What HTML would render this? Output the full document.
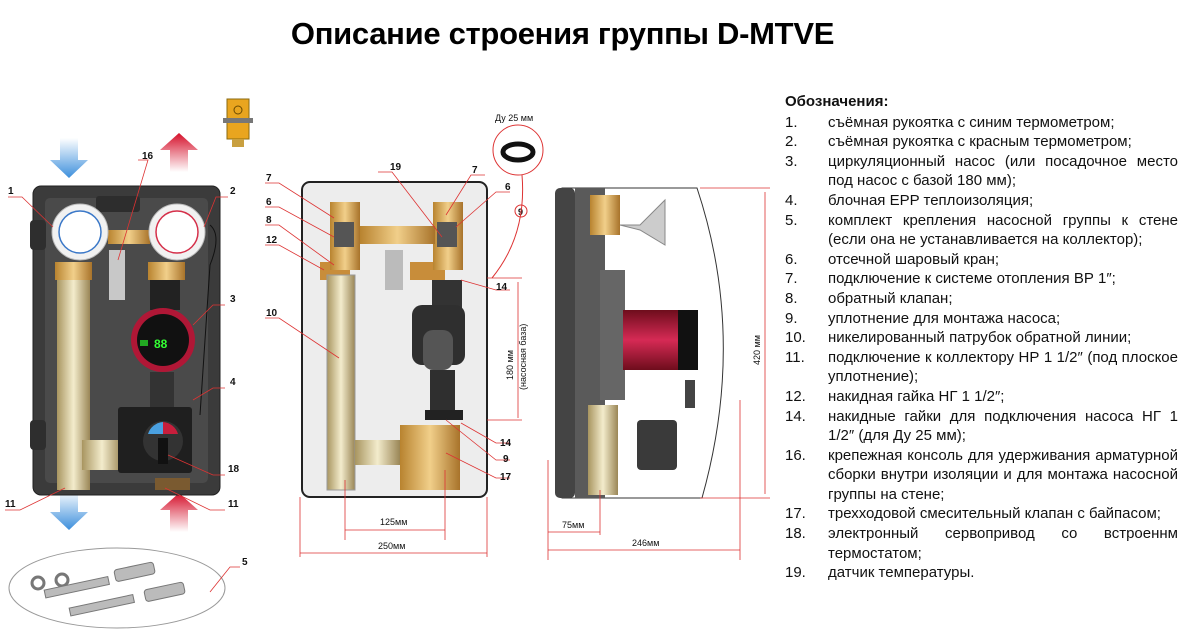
<!DOCTYPE html>
<html><head><meta charset="utf-8"><style>
body{margin:0;width:1200px;height:635px;background:#fff;position:relative;overflow:hidden;font-family:"Liberation Sans",sans-serif}
h1{position:absolute;left:0;width:1125px;top:16px;margin:0;text-align:center;font-size:31px;font-weight:bold;color:#000;letter-spacing:-0.3px}
#leg{position:absolute;left:785px;top:92px;width:393px;font-size:15px;line-height:19.6px;color:#111}
#leg .t{font-weight:bold;font-size:15px;margin-bottom:1px}
#leg .r{display:flex}
#leg .n{width:43px;flex:none}
#leg .x{flex:1;text-align:justify;text-align-last:left}
svg{position:absolute;left:0;top:0}
svg text{font-family:"Liberation Sans",sans-serif;font-size:10px;font-weight:bold;fill:#111}
</style></head><body>
<h1>Описание строения группы D-MTVE</h1>
<svg width="780" height="635" viewBox="0 0 780 635">
<defs>
<linearGradient id="brass" x1="0" x2="1"><stop offset="0" stop-color="#b8832f"/><stop offset=".5" stop-color="#f1cf8a"/><stop offset="1" stop-color="#a8732a"/></linearGradient>
<linearGradient id="tube" x1="0" x2="1"><stop offset="0" stop-color="#a89560"/><stop offset=".5" stop-color="#f3eccc"/><stop offset="1" stop-color="#9a8656"/></linearGradient>
<linearGradient id="blue" x1="0" y1="0" x2="0" y2="1"><stop offset="0" stop-color="#fff"/><stop offset="1" stop-color="#3d8fdc"/></linearGradient>
<linearGradient id="red" x1="0" y1="1" x2="0" y2="0"><stop offset="0" stop-color="#fff"/><stop offset="1" stop-color="#d5102a"/></linearGradient>
<linearGradient id="pump" x1="0" y1="0" x2="0" y2="1"><stop offset="0" stop-color="#6e0d1c"/><stop offset=".5" stop-color="#d62a55"/><stop offset="1" stop-color="#6e0d1c"/></linearGradient>
</defs>
<path d="M60,138h18v22h10l-19,18l-19,-18h10z" fill="url(#blue)"/>
<path d="M170,172h18v-22h10l-19,-17l-19,17h10z" fill="url(#red)"/>
<path d="M60,490h18v22h10l-19,18l-19,-18h10z" fill="url(#blue)"/>
<path d="M170,532h18v-22h10l-19,-17l-19,17h10z" fill="url(#red)"/>
<rect x="227" y="99" width="22" height="40" fill="#e9a51f" stroke="#8a6a10"/><rect x="223" y="118" width="30" height="5" fill="#777"/><circle cx="238" cy="110" r="4" fill="none" stroke="#6b4a00"/><rect x="232" y="139" width="12" height="8" fill="#c9a040"/>
<rect x="33" y="186" width="187" height="309" rx="8" fill="#3b3b3b" stroke="#222"/>
<rect x="45" y="198" width="163" height="285" rx="5" fill="#4a4a4a"/>
<rect x="96" y="196" width="44" height="16" rx="3" fill="#2d2d2d"/>
<rect x="30" y="220" width="16" height="30" rx="4" fill="#2e2e2e"/><rect x="30" y="420" width="16" height="30" rx="4" fill="#2e2e2e"/>
<rect x="108" y="230" width="42" height="14" fill="url(#brass)"/>
<rect x="109" y="250" width="16" height="50" fill="#c8c8c8"/>
<circle cx="80" cy="232" r="28" fill="#f1f1f1" stroke="#bbb"/><circle cx="80" cy="232" r="21" fill="#fff" stroke="#3b78c8" stroke-width="1.5"/>
<circle cx="177" cy="232" r="28" fill="#f1f1f1" stroke="#bbb"/><circle cx="177" cy="232" r="21" fill="#fff" stroke="#d5304a" stroke-width="1.5"/>
<rect x="55" y="262" width="37" height="18" fill="url(#brass)"/><rect x="148" y="262" width="37" height="18" fill="url(#brass)"/>
<rect x="57" y="280" width="33" height="210" fill="url(#tube)"/>
<rect x="82" y="440" width="40" height="30" fill="url(#tube)"/>
<rect x="150" y="280" width="30" height="30" fill="#222"/>
<circle cx="163" cy="340" r="32" fill="#b01736"/><circle cx="163" cy="340" r="26" fill="#111"/>
<text x="154" y="348" style="fill:#3f3;font-size:12px">88</text><rect x="140" y="340" width="8" height="6" fill="#2a2"/>
<rect x="150" y="372" width="24" height="38" fill="#333"/>
<rect x="118" y="407" width="74" height="66" rx="3" fill="#1f1f1f"/>
<circle cx="163" cy="441" r="20" fill="#333"/><path d="M148,434a17,17 0 0 1 15,-12v12z" fill="#4aa0e0"/><path d="M163,422a17,17 0 0 1 15,12h-15z" fill="#c81e3c"/>
<rect x="158" y="438" width="10" height="26" fill="#111"/>
<rect x="155" y="478" width="35" height="12" fill="#7a5a30"/>
<path d="M210,225 q12,10 0,40 l-10,150" stroke="#111" fill="none"/>
<ellipse cx="117" cy="588" rx="108" ry="40" fill="none" stroke="#999"/>
<g fill="#bbb" stroke="#777"><circle cx="38" cy="583" r="6" fill="none" stroke-width="3"/><circle cx="62" cy="580" r="6" fill="none" stroke-width="3"/>
<rect x="45" y="590" width="65" height="8" transform="rotate(-12 45 594)"/><rect x="70" y="608" width="65" height="8" transform="rotate(-12 70 612)"/>
<rect x="115" y="570" width="40" height="12" rx="3" transform="rotate(-12 115 576)"/><rect x="145" y="590" width="40" height="12" rx="3" transform="rotate(-12 145 596)"/></g>
<g stroke="#d33" stroke-width=".8" fill="none">
<path d="M8,197h14l31,30"/><path d="M228,197h-12l-12,30"/><path d="M138,160h10l-30,100"/><path d="M225,305h-12l-20,20"/><path d="M225,388h-12l-20,12"/><path d="M225,475h-12l-45,-20"/><path d="M5,510h15l45,-22"/><path d="M225,510h-15l-45,-22"/><path d="M240,567h-10l-20,25"/>
</g>
<text x="8" y="194">1</text><text x="230" y="194">2</text><text x="142" y="159">16</text><text x="230" y="302">3</text><text x="230" y="385">4</text><text x="228" y="472">18</text><text x="5" y="507">11</text><text x="228" y="507">11</text><text x="242" y="565">5</text>
<rect x="302" y="182" width="185" height="315" rx="8" fill="#ededed" stroke="#222" stroke-width="2"/>
<rect x="320" y="262" width="30" height="18" fill="#c88d3a"/><rect x="410" y="262" width="35" height="18" fill="#c88d3a"/>
<rect x="327" y="275" width="28" height="215" fill="url(#tube)" stroke="#999"/>
<rect x="330" y="202" width="30" height="68" fill="url(#brass)"/><rect x="433" y="202" width="30" height="68" fill="url(#brass)"/>
<rect x="334" y="222" width="20" height="25" fill="#555"/><rect x="437" y="222" width="20" height="25" fill="#555"/>
<rect x="360" y="226" width="75" height="18" fill="url(#brass)"/>
<rect x="385" y="250" width="18" height="40" fill="#bbb"/>
<rect x="432" y="280" width="30" height="30" fill="#333"/>
<rect x="412" y="305" width="53" height="60" rx="10" fill="#2f2f2f"/><rect x="423" y="330" width="30" height="40" rx="10" fill="#555"/>
<rect x="430" y="370" width="25" height="40" fill="#2f2f2f"/>
<rect x="425" y="410" width="38" height="10" fill="#222"/>
<rect x="355" y="440" width="45" height="25" fill="url(#tube)"/>
<rect x="400" y="425" width="60" height="65" fill="url(#brass)"/>
<path d="M487,278h35M487,420h35M518,282v136M300,497v60M487,497v60M345,480v60M445,470v70M300,553h187M345,530h100" stroke="#d33" stroke-width=".8"/>
<text x="513" y="380" transform="rotate(-90 513 380)" style="font-weight:normal;font-size:9px">180 мм</text>
<text x="526" y="390" transform="rotate(-90 526 390)" style="font-weight:normal;font-size:9px">(насосная база)</text>
<text x="380" y="525" style="font-weight:normal;font-size:9px">125мм</text><text x="378" y="549" style="font-weight:normal;font-size:9px">250мм</text>
<circle cx="518" cy="150" r="25" fill="none" stroke="#d33"/><ellipse cx="518" cy="152" rx="15" ry="8" fill="none" stroke="#111" stroke-width="5"/>
<text x="495" y="121" style="font-weight:normal;font-size:9px">Ду 25 мм</text>
<circle cx="521" cy="211" r="6" fill="#fff" stroke="#d33"/><text x="518" y="215" style="font-size:9px">9</text>
<path d="M522,175q5,60 -30,103" stroke="#d33" fill="none"/>
<g stroke="#d33" stroke-width=".8" fill="none">
<path d="M265,183h14l55,35"/><path d="M265,207h14l55,30"/><path d="M265,225h14l55,40"/><path d="M265,245h14l45,25"/><path d="M265,318h14l60,40"/><path d="M378,172h14l50,65"/><path d="M485,175h-14l-25,40"/><path d="M510,192h-14l-40,35"/><path d="M510,290h-14l-35,-10"/><path d="M510,443h-14l-35,-20"/><path d="M510,460h-14l-50,-40"/><path d="M510,478h-14l-50,-25"/>
</g>
<text x="266" y="181">7</text><text x="266" y="205">6</text><text x="266" y="223">8</text><text x="266" y="243">12</text><text x="266" y="316">10</text><text x="390" y="170">19</text><text x="472" y="173">7</text><text x="505" y="190">6</text><text x="496" y="290">14</text><text x="500" y="446">14</text><text x="503" y="462">9</text><text x="500" y="480">17</text>
<path d="M562,188h135q50,150 5,310h-140z" fill="#fff" stroke="#333"/>
<rect x="555" y="188" width="20" height="310" rx="5" fill="#444"/><rect x="575" y="188" width="30" height="310" fill="#5a5a5a"/>
<rect x="590" y="195" width="30" height="40" fill="url(#brass)"/>
<path d="M620,225h20l25,-25v45l-25,-15z" fill="#ccc" stroke="#888"/>
<rect x="600" y="270" width="25" height="130" fill="#666"/>
<rect x="623" y="310" width="55" height="60" fill="url(#pump)"/><rect x="678" y="310" width="20" height="60" fill="#111"/>
<rect x="685" y="380" width="10" height="28" fill="#444"/>
<rect x="588" y="405" width="30" height="90" fill="url(#tube)"/>
<rect x="637" y="420" width="40" height="50" rx="4" fill="#3a3a3a"/>
<path d="M700,188h70M700,498h70M765,192v302M548,460v100M740,400v160M600,490v45M548,532h52M548,550h192" stroke="#d33" stroke-width=".8"/>
<text x="760" y="365" transform="rotate(-90 760 365)" style="font-weight:normal;font-size:9px">420 мм</text>
<text x="562" y="528" style="font-weight:normal;font-size:9px">75мм</text><text x="632" y="546" style="font-weight:normal;font-size:9px">246мм</text>
</svg>
<div id="leg">
<div class="t">Обозначения:</div>
<div class="r"><span class="n">1.</span><span class="x">съёмная рукоятка с синим термометром;</span></div>
<div class="r"><span class="n">2.</span><span class="x">съёмная рукоятка с красным термометром;</span></div>
<div class="r"><span class="n">3.</span><span class="x">циркуляционный насос (или посадочное место под насос с базой 180 мм);</span></div>
<div class="r"><span class="n">4.</span><span class="x">блочная EPP теплоизоляция;</span></div>
<div class="r"><span class="n">5.</span><span class="x">комплект крепления насосной группы к стене (если она не устанавливается на коллектор);</span></div>
<div class="r"><span class="n">6.</span><span class="x">отсечной шаровый кран;</span></div>
<div class="r"><span class="n">7.</span><span class="x">подключение к системе отопления ВР 1″;</span></div>
<div class="r"><span class="n">8.</span><span class="x">обратный клапан;</span></div>
<div class="r"><span class="n">9.</span><span class="x">уплотнение для монтажа насоса;</span></div>
<div class="r"><span class="n">10.</span><span class="x">никелированный патрубок обратной линии;</span></div>
<div class="r"><span class="n">11.</span><span class="x">подключение к коллектору НР 1 1/2″ (под плоское уплотнение);</span></div>
<div class="r"><span class="n">12.</span><span class="x">накидная гайка НГ 1 1/2″;</span></div>
<div class="r"><span class="n">14.</span><span class="x">накидные гайки для подключения насоса НГ 1 1/2″ (для Ду 25 мм);</span></div>
<div class="r"><span class="n">16.</span><span class="x">крепежная консоль для удерживания арматурной сборки внутри изоляции и для монтажа насосной группы на стене;</span></div>
<div class="r"><span class="n">17.</span><span class="x">трехходовой смесительный клапан с байпасом;</span></div>
<div class="r"><span class="n">18.</span><span class="x">электронный сервопривод со встроеннм термостатом;</span></div>
<div class="r"><span class="n">19.</span><span class="x">датчик температуры.</span></div>
</div>
</body></html>
